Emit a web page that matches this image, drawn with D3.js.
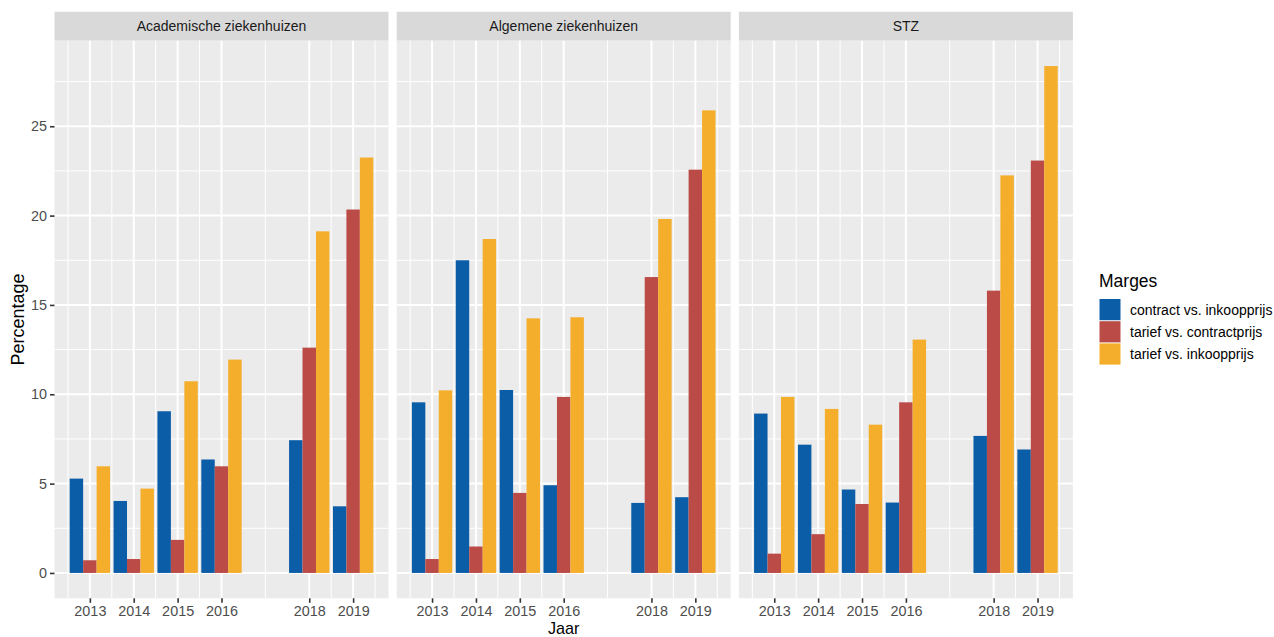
<!DOCTYPE html>
<html>
<head>
<meta charset="utf-8">
<script src="https://cdn.jsdelivr.net/npm/d3@7"></script>
<style>
  body { margin: 0; background: #fff; }
  text { font-family: "Liberation Sans", Arial, sans-serif; }
</style>
</head>
<body>
<svg id="chart" width="1274" height="637"></svg>
<script>
var years = [2013, 2014, 2015, 2016, 2018, 2019];
var facets = ["Academische ziekenhuizen", "Algemene ziekenhuizen", "STZ"];
var series = ["contract vs. inkoopprijs", "tarief vs. contractprijs", "tarief vs. inkoopprijs"];
var colors = ["#0c5da7", "#bb4b46", "#f4ae2c"];
var yTicks = [0, 5, 10, 15, 20, 25];

// values per facet, per series (order of years)
var acad_contract_inkoop = [5.28, 4.03, 9.05, 6.35, 7.43, 3.73];
var acad_tarief_contract = [0.71, 0.78, 1.85, 5.97, 12.61, 20.34];
var acad_tarief_inkoop   = [5.97, 4.72, 10.73, 11.94, 19.12, 23.25];
var alg_contract_inkoop  = [9.55, 17.50, 10.24, 4.91, 3.92, 4.24];
var alg_tarief_contract  = [0.78, 1.48, 4.48, 9.85, 16.56, 22.57];
var alg_tarief_inkoop    = [10.22, 18.69, 14.25, 14.31, 19.81, 25.89];
var stz_contract_inkoop  = [8.92, 7.18, 4.67, 3.94, 7.67, 6.91];
var stz_tarief_contract  = [1.08, 2.17, 3.86, 9.55, 15.80, 23.08];
var stz_tarief_inkoop    = [9.85, 9.18, 8.30, 13.06, 22.25, 28.37];

var values = [
    [acad_contract_inkoop, acad_tarief_contract, acad_tarief_inkoop],
    [alg_contract_inkoop, alg_tarief_contract, alg_tarief_inkoop],
    [stz_contract_inkoop, stz_tarief_contract, stz_tarief_inkoop]
];

var svg = d3.select("#chart");

var panelW = 334,
    panelGap = 8.2,
    left0 = 54.5,
    stripTop = 11.7,
    panelTop = 40.7,
    panelBot = 598.3;

var groupW = 0.92;
var xmin = d3.min(years) - groupW / 2,
    xmax = d3.max(years) + groupW / 2,
    xpad = (xmax - xmin) * 0.05;

var ymax = d3.max(values, function(f) { return d3.max(f, function(s) { return d3.max(s); }); });
var y = d3.scaleLinear()
    .domain([-ymax * 0.05, ymax * 1.05])
    .range([panelBot, panelTop]);

var x = d3.scaleLinear()
    .domain([xmin - xpad, xmax + xpad])
    .range([0, panelW]);

// minor breaks: midpoints between majors, plus one outside each end
var xMinor = [years[0] - (years[1] - years[0]) / 2];
for (var i = 0; i < years.length - 1; i++) xMinor.push((years[i] + years[i + 1]) / 2);
xMinor.push(years[years.length - 1] + (years[years.length - 1] - years[years.length - 2]) / 2);
var yMinor = yTicks.map(function(t) { return t + 2.5; });

facets.forEach(function(name, fi) {
    var g = svg.append("g")
        .attr("transform", "translate(" + (left0 + fi * (panelW + panelGap)) + ",0)");

    // strip
    g.append("rect")
        .attr("x", 0).attr("y", stripTop)
        .attr("width", panelW).attr("height", panelTop - stripTop)
        .attr("fill", "#d9d9d9");
    g.append("text")
        .attr("x", panelW / 2).attr("y", (stripTop + panelTop) / 2 + 5)
        .attr("text-anchor", "middle")
        .attr("font-size", 14)
        .attr("fill", "#1a1a1a")
        .text(name);

    // panel background
    g.append("rect")
        .attr("x", 0).attr("y", panelTop)
        .attr("width", panelW).attr("height", panelBot - panelTop)
        .attr("fill", "#ebebeb");

    // grid
    g.selectAll(".ymin").data(yMinor).enter().append("line")
        .attr("x1", 0).attr("x2", panelW)
        .attr("y1", function(d) { return y(d); }).attr("y2", function(d) { return y(d); })
        .attr("stroke", "#fff").attr("stroke-width", 1);
    g.selectAll(".xmin").data(xMinor).enter().append("line")
        .attr("y1", panelTop).attr("y2", panelBot)
        .attr("x1", function(d) { return x(d); }).attr("x2", function(d) { return x(d); })
        .attr("stroke", "#fff").attr("stroke-width", 1);
    g.selectAll(".ymaj").data(yTicks).enter().append("line")
        .attr("x1", 0).attr("x2", panelW)
        .attr("y1", function(d) { return y(d); }).attr("y2", function(d) { return y(d); })
        .attr("stroke", "#fff").attr("stroke-width", 2);
    g.selectAll(".xmaj").data(years).enter().append("line")
        .attr("y1", panelTop).attr("y2", panelBot)
        .attr("x1", function(d) { return x(d); }).attr("x2", function(d) { return x(d); })
        .attr("stroke", "#fff").attr("stroke-width", 2);

    // bars
    var bw = groupW / series.length;
    values[fi].forEach(function(vals, si) {
        g.selectAll(".bar" + si).data(vals).enter().append("rect")
            .attr("x", function(d, j) { return x(years[j] - groupW / 2 + si * bw); })
            .attr("width", x(bw) - x(0))
            .attr("y", function(d) { return y(d); })
            .attr("height", function(d) { return y(0) - y(d); })
            .attr("fill", colors[si]);
    });

    // x axis
    var xa = g.append("g")
        .attr("transform", "translate(0," + panelBot + ")")
        .call(d3.axisBottom(x).tickValues(years).tickFormat(d3.format("d")).tickSize(4.5).tickPadding(3));
    xa.select(".domain").remove();
    xa.selectAll(".tick line").attr("stroke", "#333").attr("stroke-width", 1.6);
    xa.selectAll(".tick text")
        .attr("font-size", 14.4)
        .attr("font-family", "Liberation Sans, Arial, sans-serif")
        .attr("fill", "#4d4d4d");

    if (fi === 0) {
        var ya = g.append("g")
            .call(d3.axisLeft(y).tickValues(yTicks).tickSize(4.5).tickPadding(3));
        ya.select(".domain").remove();
        ya.selectAll(".tick line").attr("stroke", "#333").attr("stroke-width", 1.6);
        ya.selectAll(".tick text")
            .attr("font-size", 14.4)
            .attr("font-family", "Liberation Sans, Arial, sans-serif")
            .attr("fill", "#4d4d4d");
    }
});

// axis titles
var plotRight = left0 + 3 * panelW + 2 * panelGap;
svg.append("text")
    .attr("x", (left0 + plotRight) / 2).attr("y", 633.6)
    .attr("text-anchor", "middle")
    .attr("font-size", 16.2)
    .attr("fill", "#000")
    .text("Jaar");
svg.append("text")
    .attr("transform", "translate(24," + ((panelTop + panelBot) / 2) + ") rotate(-90)")
    .attr("text-anchor", "middle")
    .attr("font-size", 18)
    .attr("fill", "#000")
    .text("Percentage");

// legend
var lg = svg.append("g").attr("transform", "translate(1099,0)");
lg.append("text")
    .attr("x", 0).attr("y", 287)
    .attr("font-size", 17.5)
    .attr("fill", "#000")
    .text("Marges");
series.forEach(function(s, i) {
    lg.append("rect")
        .attr("x", 0.5).attr("y", 299 + i * 22.2)
        .attr("width", 21).attr("height", 21.2)
        .attr("fill", colors[i]);
    lg.append("text")
        .attr("x", 31).attr("y", 310 + i * 22.2 + 5)
        .attr("font-size", 14)
        .attr("fill", "#000")
        .text(s);
});
</script>
</body>
</html>
